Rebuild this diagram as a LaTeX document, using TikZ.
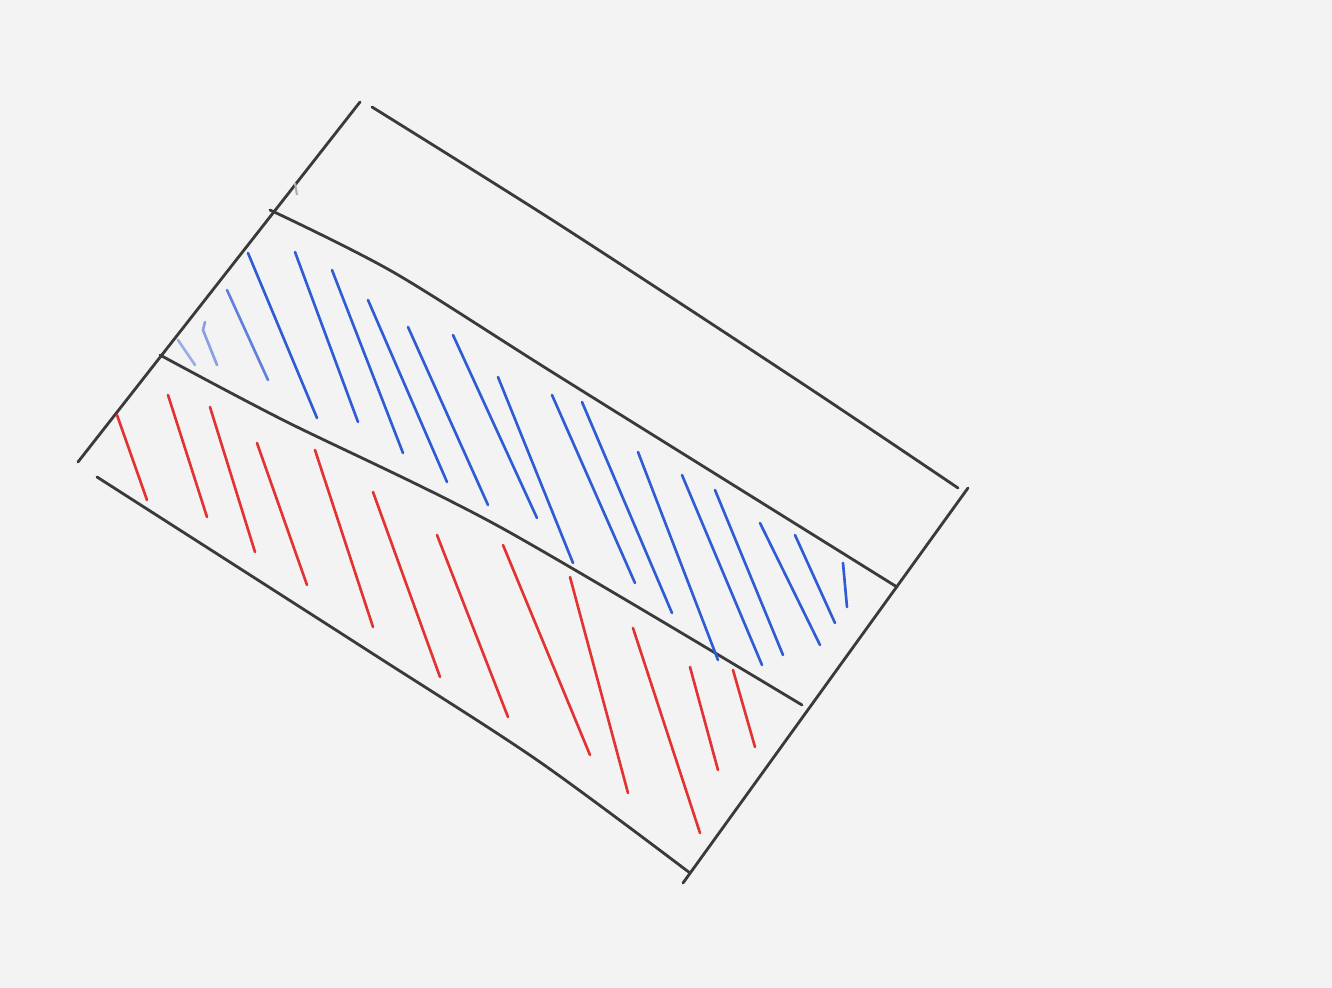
\documentclass[tikz,border=0pt]{standalone}
\usepackage{tikz}

\definecolor{paper}{HTML}{F3F3F3}
\definecolor{pencil}{HTML}{3A3A3A}
\definecolor{hatchblue}{HTML}{2F5CD4}
\definecolor{hatchred}{HTML}{E23232}

\tikzset{
  outline/.style={draw=pencil, line width=0.8pt, line cap=round, line join=round},
  bluehatch/.style={draw=hatchblue, line width=0.75pt, line cap=round},
  redhatch/.style={draw=hatchred, line width=0.75pt, line cap=round}
}

\begin{document}
\begin{tikzpicture}[x=0.01cm, y=-0.01cm]
				% 1. 纸面背景
				\fill[paper] (0,0) rectangle (1332,988);
				
				% 2. 外框 (左右两边直, 上下两边略弯)
				\draw[outline] (360,102) -- (78,462);
				\draw[outline] (968,488) -- (683,883);
				\draw[outline] plot[smooth, tension=0.5] coordinates {(372,107) (560,225) (800,382) (958,488)};
				\draw[outline] plot[smooth, tension=0.5] coordinates {(97,477) (367,650) (537,760) (690,873)};
				
				% 3. 两条分隔线
				\draw[outline] plot[smooth, tension=0.5] coordinates {(270,210) (393,272) (560,377) (897,587)};
				\draw[outline] plot[smooth, tension=0.5] coordinates {(160,355) (283,420) (500,527) (802,705)};
				\draw[pencil!40, line width=0.6pt] (295,183) -- (297,195);
				
				% 4. 中间一条: 蓝色斜线
				\draw[bluehatch, draw opacity=0.45] (178,340) -- (195,365);
				\draw[bluehatch, draw opacity=0.55] (205,322) -- (203,330) -- (217,365);
				\draw[bluehatch, draw opacity=0.75] (227,290) -- (268,380);
				\foreach \xa/\ya/\xb/\yb in {248/253/317/418, 295/252/358/422, 332/270/403/453,
						368/300/447/482, 408/327/488/505, 453/335/537/518, 498/377/573/563,
						552/395/635/583, 582/402/672/613, 638/452/718/660, 682/475/762/665,
						715/490/783/655, 760/523/820/645, 795/535/835/623, 843/563/847/607}
					\draw[bluehatch] (\xa,\ya) -- (\xb,\yb);
				
				% 5. 下面一条: 红色斜线
				\foreach \xa/\ya/\xb/\yb in {117/415/147/500, 168/395/207/517, 210/407/255/552,
						257/443/307/585, 315/450/373/627, 373/492/440/677, 437/535/508/717,
						503/545/590/755, 570/577/628/793, 633/628/700/833, 690/667/718/770,
						733/670/755/747}
					\draw[redhatch] (\xa,\ya) -- (\xb,\yb);
			\end{tikzpicture}
\end{document}
